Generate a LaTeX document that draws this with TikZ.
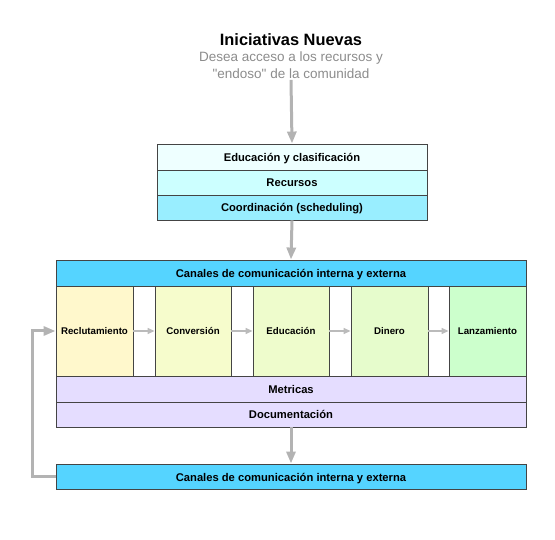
\documentclass[tikz,border=0pt]{standalone}
\usepackage{fontspec}
\setmainfont{Liberation Sans}
\newfontfamily\plainsans{Liberation Sans}[Ligatures=TeXOff]
\usetikzlibrary{arrows.meta}
\definecolor{bord}{HTML}{444444}
\definecolor{garr}{HTML}{B3B3B3}
\definecolor{sarr}{HTML}{BBBBBB}
\definecolor{subg}{HTML}{8C8C8C}
\definecolor{cA}{HTML}{EEFFFF}
\definecolor{cB}{HTML}{CCFFFF}
\definecolor{cC}{HTML}{99EEFF}
\definecolor{cD}{HTML}{55D4FF}
\definecolor{cR}{HTML}{FFF8CC}
\definecolor{cV}{HTML}{F6FCCC}
\definecolor{cE}{HTML}{EEFCCC}
\definecolor{cN}{HTML}{E6FCCC}
\definecolor{cL}{HTML}{CCFFCC}
\definecolor{cM}{HTML}{E5DDFF}
\tikzset{
  box/.style={draw=bord, line width=0.9pt, inner sep=0pt, text height=11pt, text depth=2pt, font=\fontsize{11.2}{13}\selectfont\bfseries},
  stage/.style={box, minimum height=90pt, text height=10pt, text depth=2pt, font=\fontsize{9.7}{12}\selectfont\bfseries},
  bigarrow/.style={draw=garr, line width=3pt, -{Triangle[length=12pt,width=9pt]}},
  smallarrow/.style={draw=sarr, line width=1.5pt, -{Triangle[length=7pt,width=6pt]}},
}
\begin{document}
\begin{tikzpicture}[x=1pt,y=-1pt]
\useasboundingbox (0,0) rectangle (555,540);
\node[font=\fontsize{16.4}{18}\selectfont\bfseries] (title) at (291,40) {Iniciativas Nuevas};
\node[font=\fontsize{13.5}{16.5}\selectfont\plainsans, text=subg, align=center, inner sep=1pt, anchor=north] (sub) at (291,51) {Desea acceso a los recursos y\\"endoso" de la comunidad};
\node[box, fill=cA, minimum width=270pt, minimum height=26pt] (edu1) at (292,157) {Educación y clasificación};
\node[box, fill=cB, minimum width=270pt, minimum height=25pt] (rec) at (292,182.5) {Recursos};
\node[box, fill=cC, minimum width=270pt, minimum height=25pt] (coord) at (292,207.5) {Coordinación (scheduling)};
\node[box, fill=cD, minimum width=470pt, minimum height=26pt] (can1) at (291,273) {Canales de comunicación interna y externa};
\node[stage, fill=cR, minimum width=77pt] (recl) at (94.5,331) {Reclutamiento};
\node[stage, fill=cV, minimum width=76pt] (conv) at (193,331) {Conversión};
\node[stage, fill=cE, minimum width=76pt] (edu2) at (291,331) {Educación};
\node[stage, fill=cN, minimum width=77pt] (din) at (389.5,331) {Dinero};
\node[stage, fill=cL, minimum width=77pt] (lanz) at (487.5,331) {Lanzamiento};
\node[box, fill=cM, minimum width=470pt, minimum height=26pt] (met) at (291,389) {Metricas};
\node[box, fill=cM, minimum width=470pt, minimum height=25pt] (doc) at (291,414.5) {Documentación};
\node[box, fill=cD, minimum width=470pt, minimum height=25pt] (can2) at (291,476.5) {Canales de comunicación interna y externa};
\coordinate (fb1) at (32,476.5);
\coordinate (fb2) at (32,331);
\draw[bigarrow] (sub.south) -- (edu1.north);
\draw[bigarrow] (coord.south) -- (can1.north);
\draw[bigarrow] (doc.south) -- (can2.north);
\draw[smallarrow] (recl.east) -- (conv.west);
\draw[smallarrow] (conv.east) -- (edu2.west);
\draw[smallarrow] (edu2.east) -- (din.west);
\draw[smallarrow] (din.east) -- (lanz.west);
\draw[bigarrow] (can2.west) -- (fb1) -- (fb2) -- (recl.west);
\end{tikzpicture}
\end{document}
